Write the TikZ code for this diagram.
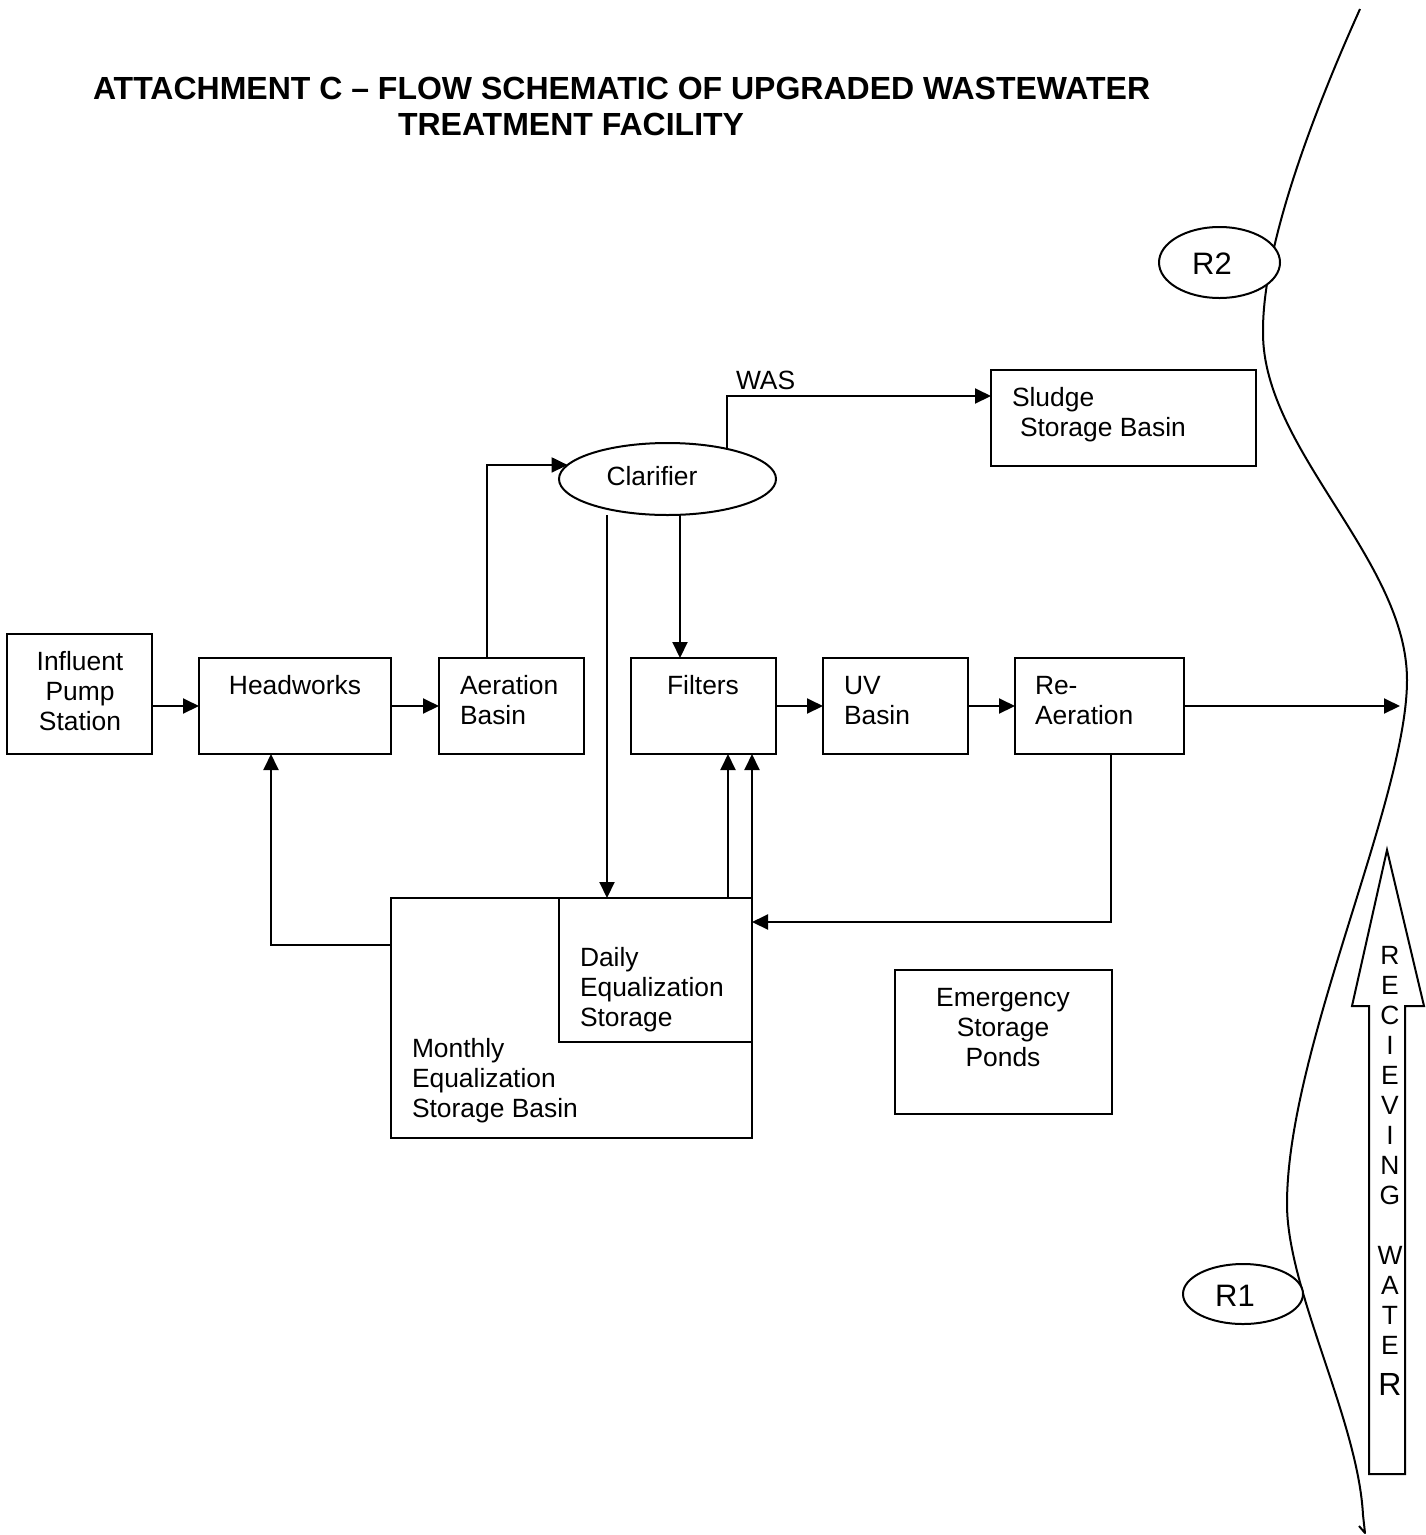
\documentclass[tikz,border=0pt]{standalone}
\usepackage{fontspec}
\setmainfont{Liberation Sans}
\usetikzlibrary{arrows.meta,shapes.geometric,calc}
\begin{document}
\begin{tikzpicture}[x=1pt,y=-1pt,
  every node/.style={font=\fontsize{26.4}{30}\selectfont, inner sep=0pt, outer sep=0pt},
  box/.style={draw, line width=2pt, rectangle},
  oval/.style={draw, line width=2pt, ellipse, fill=white},
  txt/.style={align=left, anchor=base west},
  ctxt/.style={align=center, anchor=base},
  big/.style={font=\fontsize{31}{36}\selectfont},
  arr/.style={line width=2pt, -{Triangle[length=16pt,width=15pt]}},
  ln/.style={line width=2pt}]
\useasboundingbox (0,0) rectangle (1426,1535);

% title
\node[anchor=base west, font=\fontsize{32}{36}\selectfont\bfseries] (title1) at (93,99.5) {ATTACHMENT C – FLOW SCHEMATIC OF UPGRADED WASTEWATER};
\node[anchor=base west, font=\fontsize{32}{36}\selectfont\bfseries] (title2) at (398,135.5) {TREATMENT FACILITY};

% river
\draw[ln, line join=round] (1360,9) .. controls (1310,120) and (1262,250) .. (1263,333)
  .. controls (1263,450) and (1407,560) .. (1407,680)
  .. controls (1407,800) and (1287,1050) .. (1287,1204)
  .. controls (1287,1290) and (1358,1420) .. (1363,1515)
  -- (1365,1533) -- (1359,1526);

% sampling points
\node[oval, minimum width=121pt, minimum height=71pt] (r2) at (1219.5,262.5) {};
\node[big, anchor=base] (r2-t) at (1212,274) {R2};
\node[oval, minimum width=120pt, minimum height=60pt] (r1) at (1243,1294) {};
\node[big, anchor=base] (r1-t) at (1235,1306) {R1};

% receiving water arrow
\draw[ln] (1369,1474) -- (1405,1474) -- (1405,1006) -- (1424,1006) -- (1387,850) -- (1352,1006) -- (1369,1006) -- cycle;
\node[ctxt] (rw) at (1390,1395) {R\\E\\C\\I\\E\\V\\I\\N\\G\\[30pt]W\\A\\T\\E\\[11pt]{\fontsize{32}{36}\selectfont R}};

% boxes
\node[box, minimum width=145pt, minimum height=120pt] (inf) at (79.5,694) {};
\node[ctxt] (inf-t) at (80,730) {Influent\\Pump\\Station};
\node[box, minimum width=192pt, minimum height=96pt] (hw) at (295,706) {};
\node[ctxt] (hw-t) at (295,694) {Headworks};
\node[box, minimum width=145pt, minimum height=96pt] (aer) at (511.5,706) {};
\node[txt] (aer-t) at (460,724) {Aeration\\Basin};
\node[box, minimum width=145pt, minimum height=96pt] (fil) at (703.5,706) {};
\node[ctxt] (fil-t) at (703,694) {Filters};
\node[box, minimum width=145pt, minimum height=96pt] (uv) at (895.5,706) {};
\node[txt] (uv-t) at (844,724) {UV\\Basin};
\node[box, minimum width=169pt, minimum height=96pt] (rea) at (1099.5,706) {};
\node[txt] (rea-t) at (1035,724) {Re-\\Aeration};

\node[oval, minimum width=217pt, minimum height=72pt] (clar) at (667.5,479) {};
\node[anchor=base] (clar-t) at (652,485) {Clarifier};

\node[box, minimum width=265pt, minimum height=96pt] (sl) at (1123.5,418) {};
\node[txt] (sl-t) at (1012,436) {Sludge\\\hspace*{8pt}Storage Basin};

\node[box, minimum width=361pt, minimum height=240pt] (mon) at (571.5,1018) {};
\node[txt] (mon-t) at (412,1117) {Monthly\\Equalization\\Storage Basin};
\node[box, minimum width=193pt, minimum height=144pt] (day) at (655.5,970) {};
\node[txt] (day-t) at (580,1026) {Daily\\Equalization\\Storage};

\node[box, minimum width=217pt, minimum height=144pt] (em) at (1003.5,1042) {};
\node[ctxt] (em-t) at (1003,1066) {Emergency\\Storage\\Ponds};

\node[anchor=base west] (was) at (736,389) {WAS};
\coordinate (out) at (1400,706);

% connectors
\draw[arr] (inf.east |- hw.west) -- (hw.west);
\draw[arr] (hw.east) -- (aer.west);
\draw[arr] (fil.east) -- (uv.west);
\draw[arr] (uv.east) -- (rea.west);
\draw[arr] (rea.east) -- (out);
\draw[arr] ([xshift=-24.5pt]aer.north) |- (clar.172);
\draw[arr] (clar.27) |- ([yshift=22pt]sl.west);
\draw[arr] ([xshift=-60.5pt]clar.south) -- ([xshift=-60.5pt]clar.south |- day.north);
\draw[arr] ([xshift=12.5pt]clar.south) -- ([xshift=12.5pt]clar.south |- fil.north);
\draw[arr] ([xshift=72.5pt]day.north) -- ([xshift=72.5pt]day.north |- fil.south);
\draw[arr] (day.north east) -- (day.north east |- fil.south);
\draw[arr] ([xshift=11.5pt]rea.south) |- ([yshift=48pt]day.east);
\draw[arr] ([yshift=73pt]mon.west) -| ([xshift=-24pt]hw.south);
\end{tikzpicture}
\end{document}
